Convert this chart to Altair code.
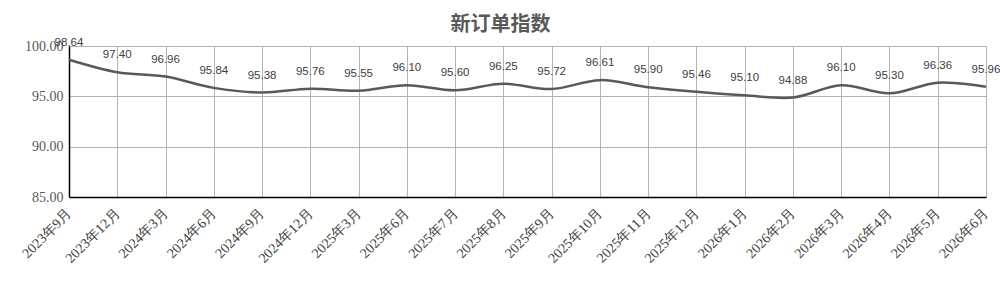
import altair as alt
import pandas as pd

months = ["2023年9月", "2023年12月", "2024年3月", "2024年6月", "2024年9月", "2024年12月",
          "2025年3月", "2025年6月", "2025年7月", "2025年8月", "2025年9月", "2025年10月",
          "2025年11月", "2025年12月", "2026年1月", "2026年2月", "2026年3月", "2026年4月",
          "2026年5月", "2026年6月"]
values = [98.64, 97.40, 96.96, 95.84, 95.38, 95.76, 95.55, 96.10, 95.60, 96.25,
          95.72, 96.61, 95.90, 95.46, 95.10, 94.88, 96.10, 95.30, 96.36, 95.96]

df = pd.DataFrame({"month": months, "value": values})

x = alt.X("month:N", sort=months, title=None,
          scale=alt.Scale(type="point", padding=0),
          axis=alt.Axis(labelAngle=-45, labelAlign="right", labelBaseline="middle",
                        labelFont="Liberation Serif", labelFontSize=14, labelColor="#404040",
                        grid=True, gridColor="#b4b4b4", gridWidth=1,
                        domainColor="#000000", domainWidth=1.5, ticks=False,
                        labelPadding=14, labelOverlap=False))
y = alt.Y("value:Q", title=None,
          scale=alt.Scale(domain=[85, 100], nice=False, zero=False),
          axis=alt.Axis(values=[85, 90, 95, 100], format=".2f",
                        labelFont="Liberation Serif", labelFontSize=14, labelColor="#595959",
                        grid=True, gridColor="#b4b4b4", gridWidth=1,
                        domainColor="#000000", domainWidth=1.5, ticks=False, labelPadding=6))

base = alt.Chart(df)
line = base.mark_line(interpolate="catmull-rom", color="#595959", strokeWidth=2.5).encode(x=x, y=y)
labels = base.mark_text(dy=-17, fontSize=11.5, color="#404040", font="Liberation Sans",
                        baseline="middle").encode(x=x, y=y, text=alt.Text("value:Q", format=".2f"))

chart = (line + labels).properties(
    width=917, height=151,
    title=alt.TitleParams("新订单指数", font="Noto Sans CJK SC", fontSize=20, fontWeight="bold",
                          color="#595959", anchor="middle", dx=-27, offset=2),
    autosize=alt.AutoSizeParams(type="none"),
    padding={"left": 69, "top": 46, "right": 14, "bottom": 87},
).configure_view(stroke=None).configure(background="white")

chart.save("out.html", embed_options={"renderer": "svg", "actions": False})
